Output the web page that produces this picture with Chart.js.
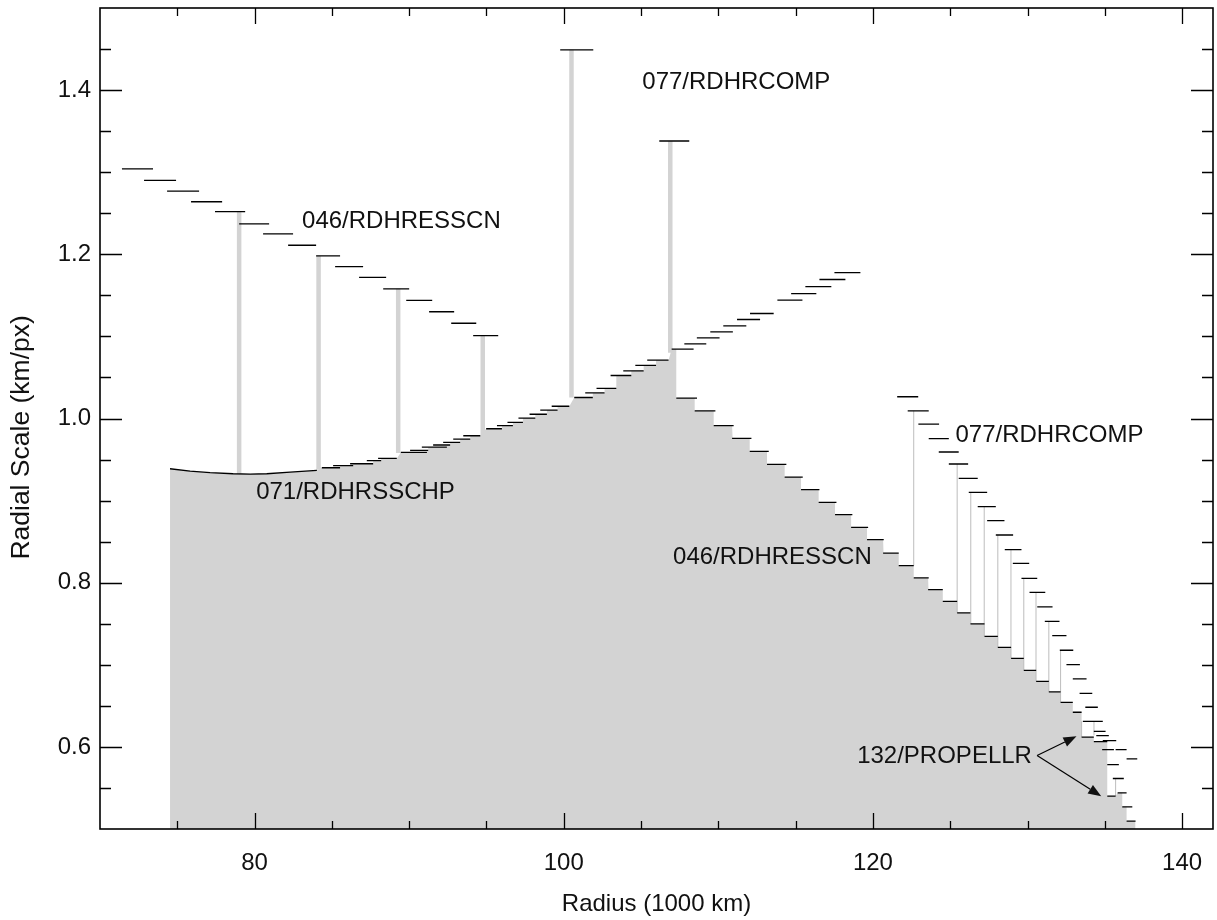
<!DOCTYPE html>
<html>
<head>
<meta charset="utf-8">
<script src="https://cdn.jsdelivr.net/npm/chart.js@4.4.1/dist/chart.umd.min.js"></script>
<style>
  html, body { margin: 0; padding: 0; background: #fff; }
  canvas { display: block; }
</style>
</head>
<body>
<canvas id="scaleChart" width="1217" height="920"></canvas>
<script>
// each step: [radius start, radius end, radial scale] (radius in 1000 km)
const rdhresscnUpper = [
  [71.42, 73.43, 1.304], [72.85, 74.92, 1.290], [74.34, 76.41, 1.277], [75.89, 77.90, 1.264],
  [77.44, 79.39, 1.252], [79.00, 80.94, 1.237], [80.55, 82.49, 1.225], [82.17, 83.98, 1.211],
  [83.98, 85.53, 1.198], [85.21, 87.02, 1.185], [86.76, 88.51, 1.172], [88.32, 90.00, 1.158],
  [89.81, 91.49, 1.144], [91.29, 92.91, 1.130], [92.72, 94.34, 1.116], [94.14, 95.76, 1.101]
];
const rdhrcompTop = [[99.77, 101.91, 1.449], [106.18, 108.12, 1.338]];

// smooth part of 071, as [radius, scale]
const rdhrsschpCurve = [
  [74.53, 0.9388], [75.83, 0.9358], [77.12, 0.9340], [78.61, 0.9327],
  [79.71, 0.9323], [80.79, 0.9327], [82.30, 0.9346], [84.03, 0.9368]
];
const rdhrsschpSteps = [
  [84.35, 85.53, 0.9400], [85.08, 86.38, 0.9425], [86.18, 87.67, 0.9449], [87.26, 88.19, 0.9486],
  [87.99, 89.20, 0.9514], [89.46, 91.15, 0.9587], [90.06, 91.23, 0.9611], [90.82, 92.44, 0.9652],
  [91.55, 92.65, 0.9677], [92.20, 93.30, 0.9709], [92.85, 93.95, 0.9750], [93.50, 94.60, 0.9790],
  [94.98, 96.00, 0.9875], [95.68, 96.71, 0.9912], [96.36, 97.36, 0.9954], [97.07, 98.16, 1.0005],
  [97.79, 98.91, 1.0052], [98.48, 99.60, 1.0103], [99.22, 100.36, 1.0149]
];
const rdhrcompLower = [
  [100.68, 101.88, 1.0256], [101.39, 102.64, 1.0311], [102.12, 103.40, 1.0366], [103.03, 104.37, 1.0524],
  [103.85, 105.17, 1.0581], [104.63, 105.97, 1.0646], [105.40, 106.78, 1.0711], [106.98, 108.40, 1.0845],
  [107.80, 109.22, 1.0910], [108.61, 110.08, 1.0983], [109.48, 110.94, 1.1056], [110.32, 111.81, 1.1129],
  [111.21, 112.70, 1.1206], [112.05, 113.58, 1.1279], [113.82, 115.44, 1.1442], [114.71, 116.34, 1.1522],
  [115.63, 117.31, 1.1607], [116.54, 118.22, 1.1693], [117.51, 119.19, 1.1778]
];
const rdhresscnLower = [
  [107.28, 108.62, 1.0249], [108.47, 109.81, 1.0094], [109.70, 110.99, 0.9912], [110.89, 112.14, 0.9757],
  [112.03, 113.26, 0.9599], [113.15, 114.40, 0.9441], [114.29, 115.46, 0.9287], [115.35, 116.54, 0.9133],
  [116.49, 117.64, 0.8978], [117.55, 118.67, 0.8828], [118.59, 119.69, 0.8674], [119.62, 120.70, 0.8524],
  [120.66, 121.67, 0.8360], [121.67, 122.64, 0.8208], [122.64, 123.61, 0.8058], [123.57, 124.52, 0.7915],
  [124.52, 125.45, 0.7773], [125.45, 126.31, 0.7632], [126.31, 127.22, 0.7498], [127.22, 128.08, 0.7347],
  [128.08, 128.94, 0.7213], [128.94, 129.76, 0.7079], [129.76, 130.56, 0.6933], [130.56, 131.38, 0.6799],
  [131.38, 132.14, 0.6670], [132.14, 132.93, 0.6543], [132.93, 133.50, 0.6422], [134.29, 135.16, 0.6065],
  [135.83, 136.41, 0.5441], [136.13, 136.78, 0.5270], [136.41, 136.99, 0.5095]
];
const propellr = [[133.50, 134.29, 0.6118], [135.16, 135.70, 0.5400]];
const rdhrcompRight = [
  [121.57, 122.93, 1.0265], [122.25, 123.61, 1.0094], [122.94, 124.28, 0.9932], [123.61, 124.91, 0.9754],
  [124.26, 125.55, 0.9592], [124.91, 126.16, 0.9446], [125.55, 126.78, 0.9270], [126.20, 127.39, 0.9100],
  [126.78, 127.95, 0.8926], [127.39, 128.51, 0.8755], [127.95, 129.07, 0.8581], [128.53, 129.61, 0.8402],
  [129.05, 130.11, 0.8235], [129.61, 130.63, 0.8053], [130.13, 131.15, 0.7882], [130.63, 131.62, 0.7706],
  [131.12, 132.07, 0.7530], [131.60, 132.52, 0.7355], [132.09, 132.96, 0.7177], [132.52, 133.39, 0.7002],
  [132.93, 133.82, 0.6828], [133.37, 134.19, 0.6653], [133.74, 134.55, 0.6483], [133.58, 134.87, 0.6312],
  [134.29, 135.05, 0.6190], [134.45, 135.26, 0.6138], [134.87, 135.74, 0.6077], [134.83, 135.59, 0.5968],
  [135.70, 136.41, 0.5968], [136.41, 137.10, 0.5855], [135.16, 135.91, 0.5785], [135.52, 136.23, 0.5615]
];
// vertical links: [radius, low scale, high scale]
const wideLinks = [
  [79.00, 0.9327, 1.252], [84.14, 0.9376, 1.198], [89.29, 0.958, 1.158],
  [94.76, 0.979, 1.101], [100.50, 1.0256, 1.449], [106.89, 1.080, 1.338]
];
const thinLinks = [
  [122.64, 0.8208, 1.0094], [125.45, 0.7632, 0.9446], [126.33, 0.7498, 0.9100], [127.20, 0.7347, 0.8926],
  [128.08, 0.7213, 0.8581], [128.93, 0.7079, 0.8402], [129.76, 0.6933, 0.8053], [130.55, 0.6799, 0.7882],
  [131.38, 0.6670, 0.7530], [132.14, 0.6543, 0.7177], [133.50, 0.6118, 0.6312], [134.30, 0.6140, 0.6312],
  [135.70, 0.5400, 0.5615]
];

const xMajorTicks = [80, 100, 120, 140];
const xMinorTicks = [75, 85, 90, 95, 105, 110, 115, 125, 130, 135];
const yMajorTicks = [0.6, 0.8, 1.0, 1.2, 1.4];
const yMinorTicks = [0.55, 0.65, 0.7, 0.75, 0.85, 0.9, 0.95, 1.05, 1.1, 1.15, 1.25, 1.3, 1.35, 1.45];

const notes = [
  { text: '046/RDHRESSCN', x: 83.07, y: 1.240 },
  { text: '077/RDHRCOMP', x: 105.08, y: 1.410 },
  { text: '071/RDHRSSCHP', x: 80.10, y: 0.9096 },
  { text: '046/RDHRESSCN', x: 107.07, y: 0.8307 },
  { text: '077/RDHRCOMP', x: 125.34, y: 0.9799 },
  { text: '132/PROPELLR', x: 118.98, y: 0.5886 }
];
const arrows = [
  [130.62, 0.5895, 133.17, 0.6130],
  [130.62, 0.5895, 134.77, 0.5400]
];
const yTitle = 'Radial Scale (km/px)';

const FONT = '"Liberation Sans", Arial, Helvetica, sans-serif';

function stepPoints(segs) {
  const out = [];
  segs.forEach(s => out.push({ x: s[0], y: s[2] }, { x: s[1], y: s[2] }, { x: s[1], y: null }));
  return out;
}
function linkPoints(links) {
  const out = [];
  links.forEach(l => out.push({ x: l[0], y: l[1] }, { x: l[0], y: l[2] }, { x: l[0], y: null }));
  return out;
}
// lowest step at every radius -> outline of the covered area
function lowerEnvelope(segs) {
  const xs = [...new Set(segs.flatMap(s => [s[0], s[1]]))].sort((a, b) => a - b);
  const pts = [];
  for (let i = 0; i < xs.length - 1; i++) {
    const m = (xs[i] + xs[i + 1]) / 2;
    const cover = segs.filter(s => s[0] <= m && s[1] >= m);
    if (!cover.length) continue;
    const v = Math.min(...cover.map(s => s[2]));
    pts.push({ x: xs[i], y: v }, { x: xs[i + 1], y: v });
  }
  return pts;
}

const fillOutline = rdhrsschpCurve.map(p => ({ x: p[0], y: p[1] }))
  .concat(lowerEnvelope([...rdhrsschpSteps, ...rdhrcompLower, ...rdhresscnLower, ...propellr]));

const stepStyle = {
  type: 'line', borderColor: '#000', borderWidth: 1.3, pointRadius: 0,
  tension: 0, spanGaps: false, fill: false, order: 1
};

const decor = {
  id: 'decor',
  afterDatasetsDraw(chart) {
    const { ctx, chartArea: a, scales: { x, y } } = chart;
    ctx.save();
    ctx.strokeStyle = '#000';
    ctx.lineWidth = 1.3;
    ctx.beginPath();
    const xt = (vals, len) => vals.forEach(v => {
      const px = Math.round(x.getPixelForValue(v)) + 0.5;
      ctx.moveTo(px, a.bottom); ctx.lineTo(px, a.bottom - len);
      ctx.moveTo(px, a.top); ctx.lineTo(px, a.top + len);
    });
    const yt = (vals, len) => vals.forEach(v => {
      const py = Math.round(y.getPixelForValue(v)) + 0.5;
      ctx.moveTo(a.left, py); ctx.lineTo(a.left + len, py);
      ctx.moveTo(a.right, py); ctx.lineTo(a.right - len, py);
    });
    xt(xMajorTicks, 16); xt(xMinorTicks, 8);
    yt(yMajorTicks, 22); yt(yMinorTicks, 11);
    ctx.stroke();

    ctx.lineWidth = 1.6;
    ctx.strokeRect(a.left, a.top, a.right - a.left, a.bottom - a.top);

    ctx.fillStyle = '#111';
    ctx.font = '24px ' + FONT;
    ctx.textAlign = 'left';
    ctx.textBaseline = 'middle';
    notes.forEach(n => ctx.fillText(n.text, x.getPixelForValue(n.x), y.getPixelForValue(n.y)));

    // y axis title, set a little below the centre of the plot
    ctx.save();
    ctx.translate(22, y.getPixelForValue(0.977));
    ctx.rotate(-Math.PI / 2);
    ctx.textAlign = 'center';
    ctx.font = '26.5px ' + FONT;
    ctx.fillText(yTitle, 0, 0);
    ctx.restore();

    ctx.lineWidth = 1.2;
    arrows.forEach(r => {
      const x0 = x.getPixelForValue(r[0]), y0 = y.getPixelForValue(r[1]);
      const x1 = x.getPixelForValue(r[2]), y1 = y.getPixelForValue(r[3]);
      const ang = Math.atan2(y1 - y0, x1 - x0);
      const hl = 13, hw = 5;
      const bx = x1 - hl * Math.cos(ang), by = y1 - hl * Math.sin(ang);
      ctx.beginPath();
      ctx.moveTo(x0, y0); ctx.lineTo(bx, by);
      ctx.stroke();
      ctx.beginPath();
      ctx.moveTo(x1, y1);
      ctx.lineTo(bx + hw * Math.sin(ang), by - hw * Math.cos(ang));
      ctx.lineTo(bx - hw * Math.sin(ang), by + hw * Math.cos(ang));
      ctx.closePath();
      ctx.fill();
    });
    ctx.restore();
  }
};

new Chart(document.getElementById('scaleChart'), {
  type: 'line',
  data: {
    datasets: [
      Object.assign({ data: stepPoints(rdhresscnUpper) }, stepStyle),
      Object.assign({ data: stepPoints(rdhrcompTop) }, stepStyle),
      Object.assign({ data: rdhrsschpCurve.map(p => ({ x: p[0], y: p[1] })) }, stepStyle),
      Object.assign({ data: stepPoints(rdhrsschpSteps) }, stepStyle),
      Object.assign({ data: stepPoints(rdhrcompLower) }, stepStyle),
      Object.assign({ data: stepPoints(rdhresscnLower) }, stepStyle),
      Object.assign({ data: stepPoints(propellr) }, stepStyle),
      Object.assign({ data: stepPoints(rdhrcompRight) }, stepStyle),
      {
        data: linkPoints(thinLinks), borderColor: '#bdbdbd', borderWidth: 1,
        pointRadius: 0, spanGaps: false, fill: false, order: 2
      },
      {
        data: linkPoints(wideLinks), borderColor: '#d3d3d3', borderWidth: 4.5,
        pointRadius: 0, spanGaps: false, fill: false, order: 3
      },
      {
        data: fillOutline, borderWidth: 0, borderColor: 'rgba(0,0,0,0)',
        backgroundColor: '#d3d3d3', pointRadius: 0, fill: 'start', order: 4
      }
    ]
  },
  options: {
    responsive: false,
    animation: false,
    devicePixelRatio: 1,
    layout: { padding: { left: 0, right: 4, top: 8, bottom: 0 } },
    plugins: { legend: { display: false }, tooltip: { enabled: false } },
    scales: {
      x: {
        type: 'linear', min: 70, max: 142,
        grid: { display: false, drawTicks: false },
        border: { display: false },
        afterBuildTicks: s => { s.ticks = xMajorTicks.map(v => ({ value: v })); },
        afterFit: s => { s.height = 91; s.paddingLeft = 0; s.paddingRight = 0; },
        ticks: { font: { size: 24, family: FONT }, color: '#111', padding: 20, maxRotation: 0 },
        title: { display: true, text: 'Radius (1000 km)', color: '#111',
                 font: { size: 24, family: FONT }, padding: { top: 0, bottom: 1 } }
      },
      y: {
        type: 'linear', min: 0.5, max: 1.5,
        grid: { display: false, drawTicks: false },
        border: { display: false },
        afterBuildTicks: s => { s.ticks = yMajorTicks.map(v => ({ value: v })); },
        afterFit: s => { s.width = 100; s.paddingTop = 0; s.paddingBottom = 0; },
        ticks: { font: { size: 24, family: FONT }, color: '#111', padding: 9,
                 callback: v => v.toFixed(1) }
      }
    }
  },
  plugins: [decor]
});
</script>
</body>
</html>
